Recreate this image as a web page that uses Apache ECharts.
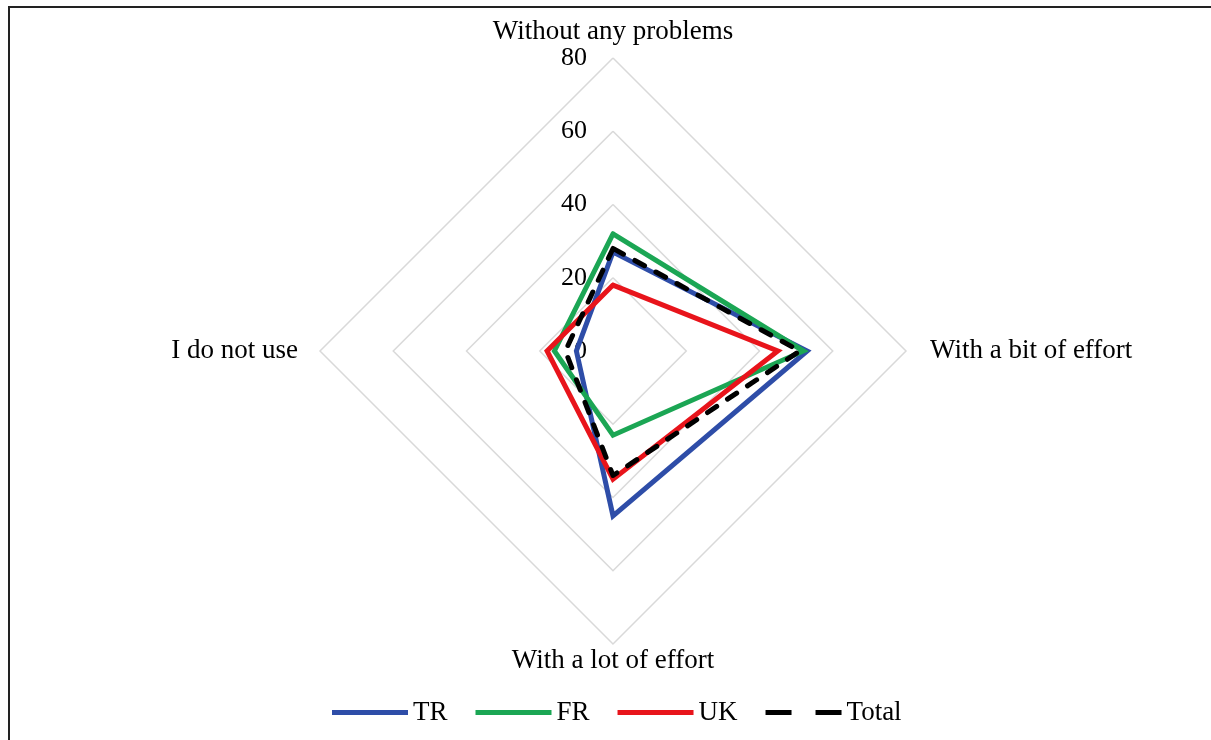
<!DOCTYPE html>
<html>
<head>
<meta charset="utf-8">
<script src="https://cdn.jsdelivr.net/npm/echarts@6/dist/echarts.min.js"></script>
<style>
  html, body { margin: 0; padding: 0; background: #ffffff; }
  #chart { width: 1211px; height: 740px; }
  #frame { position: absolute; left: 8px; top: 6px; right: 0; bottom: 0;
           border-top: 2px solid #222; border-left: 2px solid #222; pointer-events: none; }
</style>
</head>
<body>
<div id="chart"></div>
<div id="frame"></div>
<script>
// Categories in clockwise order starting from the top axis
const categories = ["Without any problems", "With a bit of effort", "With a lot of effort", "I do not use"];
const seriesNames = ["TR", "FR", "UK", "Total"];
const TR    = [27, 53, 45, 10];
const FR    = [32, 52, 23, 16];
const UK    = [18, 45, 35, 18];
const Total = [28, 51, 34, 13];
const axisMax = 80;
const tickStep = 20;

// ECharts places indicators counter-clockwise from the top
const order = [0, 3, 2, 1];
const nameGaps = { "Without any problems": 7, "With a bit of effort": 24, "With a lot of effort": 3, "I do not use": 22 };

const FONT = "'Liberation Serif', 'Times New Roman', serif";
const colors = ["#2E4DA8", "#1BA654", "#E8141B", "#000000"];

const indicator = order.map((i, k) => ({
  name: categories[i],
  min: 0,
  max: axisMax,
  nameGap: nameGaps[categories[i]],
  axisLabel: { show: k === 0 }
}));
const reorder = arr => order.map(i => arr[i]);

const allData = [TR, FR, UK, Total];
const series = [{
  type: 'radar',
  symbol: 'none',
  data: seriesNames.map((n, s) => ({
    name: n,
    value: reorder(allData[s]),
    lineStyle: s === 3
      ? { color: colors[s], width: 5, type: [11, 13], cap: 'round' }
      : { color: colors[s], width: 5, cap: 'round', join: 'miter' },
    itemStyle: { color: colors[s] },
    areaStyle: { opacity: 0 }
  }))
}];

const chart = echarts.init(document.getElementById('chart'), null, { renderer: 'canvas' });
chart.setOption({
  animation: false,
  backgroundColor: '#ffffff',
  color: colors,
  legend: {
    left: 327,
    top: 694,
    itemWidth: 76,
    itemHeight: 5,
    itemGap: 28,
    textStyle: { fontFamily: FONT, fontSize: 27, color: '#000' },
    data: seriesNames.map((n, s) => ({
      name: n,
      icon: s === 3 ? 'path://M0,0H26V5H0Z M50,0H76V5H50Z' : 'rect',
      itemStyle: { color: colors[s] }
    }))
  },
  radar: {
    center: [613, 351],
    radius: 293,
    shape: 'polygon',
    splitNumber: axisMax / tickStep,
    startAngle: 90,
    indicator: indicator,
    axisName: { color: '#000', fontFamily: FONT, fontSize: 27 },
    axisLine: { show: false },
    axisTick: { show: false },
    axisLabel: { show: true, color: '#000', fontFamily: FONT, fontSize: 26, margin: 26 },
    splitLine: { lineStyle: { color: '#D9D9D9', width: 1.5 } },
    splitArea: { show: false }
  },
  series: series
});
</script>
</body>
</html>
